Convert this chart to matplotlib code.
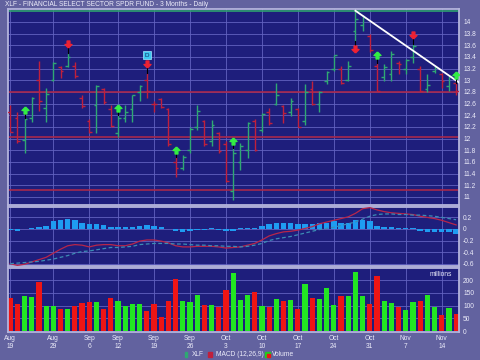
import numpy as np
import matplotlib.pyplot as plt
from matplotlib.path import Path
from matplotlib.patches import Rectangle

plt.rcParams['font.family'] = ['Liberation Sans', 'DejaVu Sans']

# daily bars, Aug 19 - Nov 16
opens = [12.45, 12.35, 11.98, 12.35, 13.00, 12.52, 13.00, 13.22, 13.25, 13.25,
         12.70, 12.30, 12.58, 12.85, 12.50, 12.10, 12.35, 12.50, 12.80, 13.00,
         12.60, 12.68, 12.50, 11.60, 11.50, 11.80, 12.20, 12.30, 11.95, 12.10,
         11.90, 11.10, 11.60, 11.80, 12.30, 12.15, 12.45, 12.60, 12.55, 12.45,
         12.50, 12.30, 12.85, 12.60, 12.98, 13.20, 13.20, 13.00, 13.85, 13.95,
         13.75, 13.25, 13.05, 13.10, 13.30, 13.20, 13.40, 13.20, 12.85, 13.15,
         13.10, 12.90, 12.95]
highs = [12.57, 12.45, 12.36, 12.72, 13.33, 12.87, 13.31, 13.25, 13.47, 13.31,
         12.74, 12.34, 12.92, 12.87, 12.57, 12.40, 12.57, 12.75, 12.92, 13.13,
         12.65, 12.70, 12.53, 11.68, 11.71, 12.19, 12.58, 12.31, 12.31, 12.11,
         11.95, 11.83, 11.93, 12.28, 12.33, 12.43, 12.52, 12.96, 12.58, 12.69,
         12.52, 12.94, 12.98, 12.82, 13.15, 13.44, 13.25, 13.33, 14.19, 14.12,
         13.80, 13.30, 13.28, 13.50, 13.33, 13.37, 13.62, 13.25, 13.10, 13.25,
         13.13, 13.08, 12.96]
lows = [12.11, 11.93, 11.76, 12.28, 12.48, 12.28, 12.98, 13.03, 13.22, 13.04,
        12.52, 12.09, 12.09, 12.60, 12.19, 12.02, 12.28, 12.28, 12.65, 12.70,
        12.45, 12.52, 11.88, 11.34, 11.46, 11.75, 12.14, 11.88, 11.88, 11.76,
        11.25, 10.95, 11.46, 11.66, 11.78, 12.11, 12.23, 12.57, 12.26, 12.38,
        12.19, 12.23, 12.58, 12.45, 12.93, 13.15, 12.94, 12.98, 13.68, 13.85,
        13.49, 12.82, 12.99, 12.99, 13.11, 13.11, 13.30, 12.80, 12.80, 13.13,
        12.86, 12.82, 12.74]
closes = [12.12, 11.96, 12.33, 12.70, 12.65, 12.77, 13.30, 13.15, 13.40, 13.07,
          12.55, 12.12, 12.90, 12.62, 12.22, 12.35, 12.45, 12.74, 12.90, 12.82,
          12.60, 12.54, 11.90, 11.50, 11.68, 12.17, 12.48, 11.90, 12.24, 11.78,
          11.27, 11.75, 11.88, 12.27, 11.80, 12.42, 12.27, 12.74, 12.43, 12.65,
          12.20, 12.79, 12.60, 12.80, 13.14, 13.43, 12.96, 13.24, 14.05, 14.08,
          13.52, 12.82, 13.22, 13.45, 13.27, 13.35, 13.58, 12.82, 12.91, 13.22,
          12.98, 13.07, 12.82]

volume = [129, 107, 139, 134, 195, 100, 100, 87, 89, 100,
          109, 113, 116, 87, 132, 120, 100, 105, 107, 80,
          107, 57, 120, 205, 120, 113, 142, 103, 103, 96,
          163, 228, 121, 141, 154, 99, 95, 128, 117, 121,
          88, 184, 132, 125, 171, 101, 137, 137, 233, 137,
          108, 216, 117, 112, 95, 84, 114, 117, 143, 95,
          62, 91, 66]

macd = [-0.60, -0.63, -0.61, -0.57, -0.53, -0.49, -0.42, -0.35, -0.29, -0.27,
        -0.28, -0.31, -0.28, -0.27, -0.27, -0.29, -0.29, -0.26, -0.21, -0.19,
        -0.19, -0.21, -0.24, -0.29, -0.31, -0.31, -0.30, -0.30, -0.30, -0.31,
        -0.33, -0.32, -0.31, -0.28, -0.25, -0.19, -0.12, -0.08, -0.05, -0.04,
        -0.02, 0.01, 0.04, 0.09, 0.12, 0.15, 0.18, 0.21, 0.27, 0.35,
        0.37, 0.33, 0.30, 0.28, 0.27, 0.26, 0.25, 0.22, 0.20, 0.18,
        0.15, 0.11, 0.07]
signal = [-0.60, -0.59, -0.58, -0.57, -0.56, -0.54, -0.52, -0.49, -0.46, -0.42,
          -0.39, -0.38, -0.36, -0.34, -0.32, -0.32, -0.31, -0.30, -0.27, -0.26,
          -0.25, -0.25, -0.25, -0.26, -0.26, -0.27, -0.28, -0.28, -0.29, -0.29,
          -0.30, -0.30, -0.31, -0.30, -0.28, -0.25, -0.20, -0.17, -0.15, -0.13,
          -0.10, -0.07, -0.04, -0.01, 0.01, 0.03, 0.06, 0.09, 0.12, 0.17,
          0.22, 0.25, 0.26, 0.26, 0.25, 0.25, 0.24, 0.24, 0.23, 0.22,
          0.20, 0.18, 0.16]
hist = [-0.01, -0.03, 0.005, 0.02, 0.03, 0.06, 0.13, 0.16, 0.17, 0.15,
        0.10, 0.08, 0.08, 0.07, 0.04, 0.03, 0.03, 0.04, 0.06, 0.07,
        0.06, 0.04, 0.0, -0.04, -0.06, -0.03, -0.01, -0.01, 0.01, -0.01,
        -0.03, -0.03, 0.01, 0.02, 0.02, 0.06, 0.08, 0.10, 0.10, 0.10,
        0.08, 0.08, 0.08, 0.10, 0.11, 0.13, 0.11, 0.11, 0.15, 0.16,
        0.14, 0.06, 0.04, 0.03, 0.02, 0.01, 0.01, -0.03, -0.05, -0.05,
        -0.06, -0.06, -0.08]

tick_idx = [0, 6, 11, 15, 20, 25, 30, 35, 40, 45, 50, 55, 60]
tick_month = ["Aug", "Aug", "Sep", "Sep", "Sep", "Sep", "Oct", "Oct", "Oct", "Oct", "Oct", "Nov", "Nov"]
tick_day = ["19", "29", "6", "12", "19", "26", "3", "10", "17", "24", "31", "7", "14"]

red_levels = [12.8, 12.02, 11.12]
green_level = 14.19
trend_x = [48, 62.4]
trend_y = [14.19, 12.96]
buy_idx = [2, 15, 23, 31, 51, 62]
sell_idx = [8, 19, 56]
sell_below_idx = [48]
d_idx = 19

BG = '#62629f'
PANEL = '#1e1e7c'
GRID = '#6262c0'
TXT = '#ececfa'
UP = '#2fa873'
DN = '#c0203c'

x = np.arange(len(closes))
prev = np.r_[np.inf, closes[:-1]]
up = np.array(closes) > prev
pcols = np.where(up, UP, DN)
vcols = np.where(up, '#22e622', '#ee1515')

arrow_up = Path([(0, 1), (1, 0), (0.4, 0), (0.4, -1), (-0.4, -1), (-0.4, 0), (-1, 0), (0, 1)])
arrow_dn = Path([(0, -1), (1, 0), (0.4, 0), (0.4, 1), (-0.4, 1), (-0.4, 0), (-1, 0), (0, -1)])

fig = plt.figure(figsize=(4.8, 3.6), dpi=100, facecolor=BG)
L, W = 8 / 480, 451 / 480
ax_p = fig.add_axes([L, 1 - 205 / 360, W, 196 / 360])
ax_m = fig.add_axes([L, 1 - 266 / 360, W, 59 / 360], sharex=ax_p)
ax_v = fig.add_axes([L, 1 - 332 / 360, W, 64 / 360], sharex=ax_p)

for ax in (ax_p, ax_m, ax_v):
    ax.set_facecolor(PANEL)
    for s in ax.spines.values():
        s.set_color('#b4b4dc')
        s.set_linewidth(1.3)
    ax.yaxis.tick_right()
    ax.tick_params(axis='both', length=0, labelsize=4.8, colors=TXT, pad=3)
    for t in tick_idx:
        ax.axvline(t, color=GRID, lw=0.6, zorder=0)

# price panel
for p in np.arange(11, 14.01, 0.2):
    ax_p.axhline(p, color=GRID, lw=0.6, zorder=0)
for lv in red_levels:
    ax_p.axhline(lv, color='#a8284c', lw=1.2, zorder=1)
ax_p.axhline(green_level, color='#30a070', lw=1.2, zorder=1)
ax_p.vlines(x, lows, highs, colors=pcols, lw=1, zorder=3)
ax_p.hlines(opens, x - 0.38, x, colors=pcols, lw=1, zorder=3)
ax_p.hlines(closes, x, x + 0.38, colors=pcols, lw=1, zorder=3)
ax_p.plot(trend_x, trend_y, color='white', lw=1.3, zorder=4)

for i in buy_idx:
    ax_p.plot([i, i], [highs[i], highs[i] + 0.1], color='black', lw=0.8, zorder=4)
    ax_p.plot(i, highs[i] + 0.13, marker=arrow_up, ms=5, color='#33ee44', zorder=5)
for i in sell_idx:
    ax_p.plot([i, i], [highs[i], highs[i] + 0.12], color='black', lw=0.8, zorder=4)
    ax_p.plot(i, highs[i] + 0.15, marker=arrow_dn, ms=5, color='#ee2233', zorder=5)
for i in sell_below_idx:
    ax_p.plot([i, i], [lows[i], lows[i] - 0.1], color='black', lw=0.8, zorder=4)
    ax_p.plot(i, lows[i] - 0.14, marker=arrow_dn, ms=5, color='#ee2233', zorder=5)
ax_p.text(d_idx, highs[d_idx] + 0.3, "D", fontsize=4.5, color='#102060', ha='center', va='center',
          zorder=6, bbox=dict(boxstyle='square,pad=0.25', fc='#3cc8f0', ec='#a0e8ff', lw=0.5))

ax_p.set_ylim(10.86, 14.22)
ax_p.set_yticks(np.round(np.arange(11, 14.01, 0.2), 1))
ax_p.set_yticklabels([f"{v:g}" for v in np.round(np.arange(11, 14.01, 0.2), 1)])
ax_p.set_xlim(-0.3, 62.4)
ax_p.tick_params(axis='x', labelbottom=False)

# macd panel
for v in [0.2, 0, -0.2, -0.4, -0.6]:
    ax_m.axhline(v, color=GRID, lw=0.6, zorder=0)
ax_m.bar(x, hist, width=0.75, color='#1e9cf2', zorder=2)
ax_m.plot(x, macd, color='#b8264a', lw=0.9, zorder=3)
ax_m.plot(x, signal, color='#3c8cb4', lw=0.9, ls=(0, (3, 2)), zorder=3)
ax_m.set_ylim(-0.64, 0.38)
ax_m.set_yticks([0.2, 0, -0.2, -0.4, -0.6])
ax_m.set_yticklabels(["0.2", "0", "-0.2", "-0.4", "-0.6"])
ax_m.tick_params(axis='x', labelbottom=False)

# volume panel
for v in [50, 100, 150, 200]:
    ax_v.axhline(v, color=GRID, lw=0.6, zorder=0)
ax_v.bar(x, volume, width=0.72, color=vcols, zorder=2)
ax_v.set_ylim(-3, 248)
ax_v.set_yticks([0, 50, 100, 150, 200])
ax_v.text(0.985, 0.9, "millions", transform=ax_v.transAxes, ha='right', va='center',
          fontsize=4.8, color=TXT)
ax_v.set_xticks(tick_idx)
ax_v.set_xticklabels([f"{m}\n{d}" for m, d in zip(tick_month, tick_day)], linespacing=1.15)
ax_v.tick_params(axis='x', pad=2)

fig.text(5 / 480, 1 - 5 / 360, "XLF - FINANCIAL SELECT SECTOR SPDR FUND - 3 Months - Daily",
         fontsize=4.8, color=TXT, va='center')

# legend
ly = 1 - 355 / 360
fig.add_artist(Rectangle((185 / 480, ly - 2 / 360), 2 / 480, 5 / 360, color=UP))
fig.text(192 / 480, ly, "XLF", fontsize=4.8, color=TXT, va='center')
fig.add_artist(Rectangle((208 / 480, ly - 2 / 360), 4 / 480, 5 / 360, color='#c0203c'))
fig.text(216 / 480, ly, "MACD (12,26,9)", fontsize=4.8, color=TXT, va='center')
fig.add_artist(Rectangle((265 / 480, ly - 2 / 360), 5 / 480, 5 / 360, color='#22cc22'))
fig.add_artist(Rectangle((267 / 480, ly - 2 / 360), 3 / 480, 3 / 360, color='#ee1515'))
fig.text(272 / 480, ly, "Volume", fontsize=4.8, color=TXT, va='center')

fig.savefig("out.png", dpi=100, facecolor=BG)
